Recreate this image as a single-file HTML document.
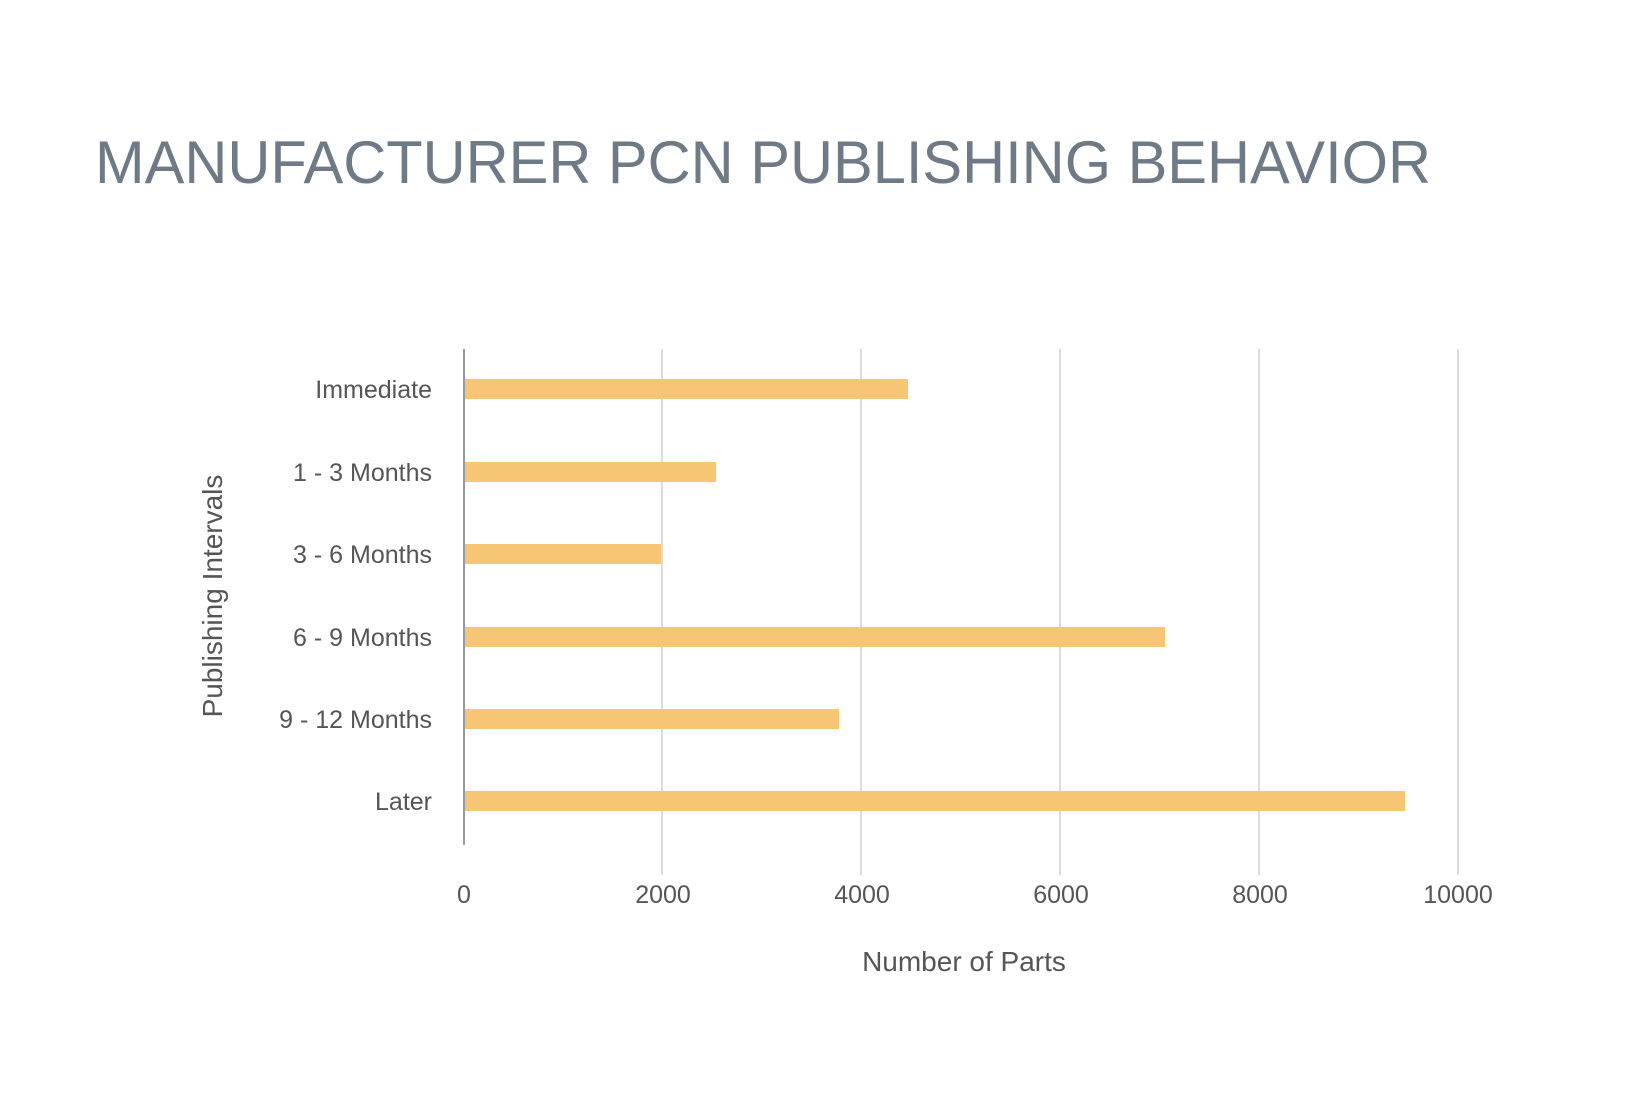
<!DOCTYPE html>
<html><head><meta charset="utf-8"><style>html,body{margin:0;padding:0;background:#fff}</style></head>
<body>
<svg width="1647" height="1107" xmlns="http://www.w3.org/2000/svg" font-family="Liberation Sans, sans-serif">
<rect width="1647" height="1107" fill="#fff"/>
<text x="95" y="183" font-size="60" fill="#6e7a85" textLength="1336" lengthAdjust="spacingAndGlyphs">MANUFACTURER PCN PUBLISHING BEHAVIOR</text>
<g stroke="#dcdcdc" stroke-width="2">
<line x1="662" y1="349" x2="662" y2="875"/>
<line x1="861" y1="349" x2="861" y2="875"/>
<line x1="1060" y1="349" x2="1060" y2="875"/>
<line x1="1259" y1="349" x2="1259" y2="875"/>
<line x1="1458" y1="349" x2="1458" y2="875"/>
</g>
<line x1="464" y1="349" x2="464" y2="845" stroke="#9a9a9a" stroke-width="2"/>
<g fill="#f7c675">
<rect x="465" y="379" width="443" height="20"/>
<rect x="465" y="462" width="251" height="20"/>
<rect x="465" y="544" width="196" height="20"/>
<rect x="465" y="627" width="700" height="20"/>
<rect x="465" y="709" width="374" height="20"/>
<rect x="465" y="791" width="940" height="20"/>
</g>
<g font-size="25" fill="#555" text-anchor="end">
<text x="432" y="398">Immediate</text>
<text x="432" y="481">1 - 3 Months</text>
<text x="432" y="563">3 - 6 Months</text>
<text x="432" y="646">6 - 9 Months</text>
<text x="432" y="728">9 - 12 Months</text>
<text x="432" y="810">Later</text>
</g>
<g font-size="25" fill="#555" text-anchor="middle">
<text x="464" y="903">0</text>
<text x="663" y="903">2000</text>
<text x="862" y="903">4000</text>
<text x="1061" y="903">6000</text>
<text x="1260" y="903">8000</text>
<text x="1458" y="903">10000</text>
<text x="964" y="971" font-size="28">Number of Parts</text>
<text transform="translate(222,596) rotate(-90)" font-size="28">Publishing Intervals</text>
</g>
</svg>
</body></html>
